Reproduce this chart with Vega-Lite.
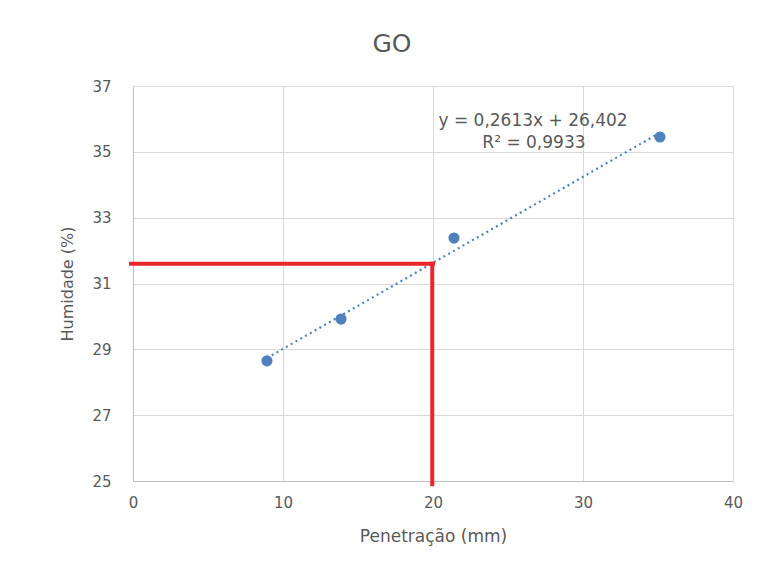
{
  "$schema": "https://vega.github.io/schema/vega-lite/v6.json",
  "width": 600,
  "height": 395,
  "autosize": {"type": "none"},
  "padding": {"left": 133, "top": 86, "right": 27, "bottom": 87},
  "background": "white",
  "config": {"font": "DejaVu Sans", "view": {"stroke": null}},
  "title": {"text": "GO", "fontSize": 25, "font": "DejaVu Sans", "fontWeight": "normal", "color": "#595959", "anchor": "middle", "dx": -41, "offset": -3, "baseline": "bottom"},
  "datasets": {
    "points": [
      {"pen": 8.93, "hum": 28.65},
      {"pen": 13.87, "hum": 29.92},
      {"pen": 21.4, "hum": 32.38},
      {"pen": 35.13, "hum": 35.45}
    ],
    "trend": [
      {"pen": 8.93, "hum": 28.735},
      {"pen": 35.13, "hum": 35.581}
    ],
    "guides": [
      {"x": -0.13, "x2": 20.0, "y": 31.6, "y2": 31.6},
      {"x": 19.95, "x2": 19.95, "y": 31.6, "y2": 24.9}
    ],
    "labels": [
      {"label": "y = 0,2613x + 26,402", "x": 26.67, "y": 35.94},
      {"label": "R² = 0,9933", "x": 26.73, "y": 35.27}
    ]
  },
  "layer": [
    {
      "data": {"name": "points"},
      "mark": {"type": "point", "filled": true, "shape": "circle", "size": 125, "color": "#4f81bd", "opacity": 1},
      "encoding": {
        "x": {"field": "pen", "type": "quantitative", "scale": {"domain": [0, 40], "nice": false, "zero": false},
          "axis": {"values": [0, 10, 20, 30, 40], "grid": true, "gridColor": "#d9d9d9", "domainColor": "#bfbfbf", "ticks": false, "labelFlush": false,
            "labelFontSize": 15, "labelColor": "#595959", "labelPadding": 14, "title": "Penetração (mm)", "titleFontSize": 17,
            "titleFontWeight": "normal", "titleColor": "#595959", "titlePadding": 18}},
        "y": {"field": "hum", "type": "quantitative", "scale": {"domain": [25, 37], "nice": false, "zero": false},
          "axis": {"values": [25, 27, 29, 31, 33, 35, 37], "grid": true, "gridColor": "#d9d9d9", "domainColor": "#bfbfbf", "ticks": false, "labelFlush": false,
            "labelFontSize": 15, "labelColor": "#595959", "labelPadding": 22, "title": "Humidade (%)", "titleFontSize": 16,
            "titleFontWeight": "normal", "titleColor": "#595959", "titlePadding": 16}}
      }
    },
    {
      "data": {"name": "trend"},
      "mark": {"type": "line", "color": "#4f81bd", "strokeWidth": 2.2, "strokeDash": [2, 3.5]},
      "encoding": {
        "x": {"field": "pen", "type": "quantitative", "scale": {"domain": [0, 40], "nice": false, "zero": false}},
        "y": {"field": "hum", "type": "quantitative", "scale": {"domain": [25, 37], "nice": false, "zero": false}}
      }
    },
    {
      "data": {"name": "labels"},
      "mark": {"type": "text", "fontSize": 17, "color": "#595959", "align": "center", "baseline": "middle"},
      "encoding": {
        "x": {"field": "x", "type": "quantitative", "scale": {"domain": [0, 40], "nice": false, "zero": false}},
        "y": {"field": "y", "type": "quantitative", "scale": {"domain": [25, 37], "nice": false, "zero": false}},
        "text": {"field": "label"}
      }
    },
    {
      "data": {"name": "guides"},
      "mark": {"type": "rule", "color": "#e8262b", "strokeWidth": 4, "strokeCap": "square"},
      "encoding": {
        "x": {"field": "x", "type": "quantitative", "scale": {"domain": [0, 40], "nice": false, "zero": false}},
        "x2": {"field": "x2"},
        "y": {"field": "y", "type": "quantitative", "scale": {"domain": [25, 37], "nice": false, "zero": false}},
        "y2": {"field": "y2"}
      }
    }
  ]
}
